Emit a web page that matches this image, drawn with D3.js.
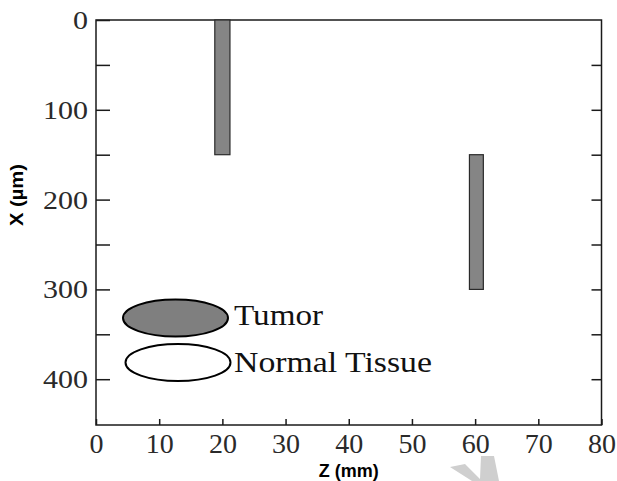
<!DOCTYPE html>
<html>
<head>
<meta charset="utf-8">
<script src="https://cdn.jsdelivr.net/npm/d3@7"></script>
<style>
  html, body { margin: 0; padding: 0; background: #fff; }
  svg { display: block; }
</style>
</head>
<body>
<svg id="chart" width="617" height="481"></svg>
<script>
// ---- data ----
const zTicks = [0, 10, 20, 30, 40, 50, 60, 70, 80];
const xTicks = [0, 50, 100, 150, 200, 250, 300, 350, 400];
const xTickLabels = ["0", "", "100", "", "200", "", "300", "", "400"];
const barZStart = [18.8, 59.1];
const barZEnd = [21.2, 61.3];
const barXStart = [0, 150];
const barXEnd = [150, 300];
const legendLabels = ["Tumor", "Normal Tissue"];
const legendFills = ["#7f7f7f", "#ffffff"];

(function () {
// ---- layout ----
const svg = d3.select("#chart");
const pLeft = 96, pRight = 601.5, pTop = 20, pBottom = 425;
const x = d3.scaleLinear().domain([0, 80]).range([pLeft, pRight]);
const y = d3.scaleLinear().domain([0, 451]).range([pTop, pBottom]);
const serif = '"Liberation Serif"';
const sans = '"Liberation Sans"';
const axisColor = "#1a1a1a";

// frame
svg.append("rect")
  .attr("x", pLeft).attr("y", pTop)
  .attr("width", pRight - pLeft).attr("height", pBottom - pTop)
  .attr("fill", "none").attr("stroke", axisColor).attr("stroke-width", 1.5);

// bars
svg.append("g").selectAll("rect")
  .data(barZStart.map((d, i) => i))
  .join("rect")
  .attr("x", i => x(barZStart[i]))
  .attr("width", i => x(barZEnd[i]) - x(barZStart[i]))
  .attr("y", i => y(barXStart[i]))
  .attr("height", i => y(barXEnd[i]) - y(barXStart[i]))
  .attr("fill", "#858585")
  .attr("stroke", "#2a2a2a")
  .attr("stroke-width", 1.2);

// left axis
const gL = svg.append("g").attr("transform", `translate(${pLeft},0)`)
  .call(d3.axisLeft(y).tickValues(xTicks)
    .tickFormat((d, i) => xTickLabels[i]).tickSize(-14).tickPadding(8));
gL.attr("font-family", serif).attr("font-size", 25);
gL.select(".domain").remove();
gL.selectAll(".tick line").attr("stroke", axisColor).attr("stroke-width", 1.5);
gL.selectAll(".tick text")
  .attr("fill", "#2a2a2a")
  .attr("dy", "0.34em")
  .each(function() {
    const t = d3.select(this).text();
    if (t.length) d3.select(this).attr("textLength", t.length * 15)
      .attr("lengthAdjust", "spacingAndGlyphs");
  });

// right axis ticks
const gR = svg.append("g").attr("transform", `translate(${pRight},0)`)
  .call(d3.axisRight(y).tickValues(xTicks.filter(d => d > 0))
    .tickFormat("").tickSize(-10));
gR.select(".domain").remove();
gR.selectAll(".tick line").attr("stroke", axisColor).attr("stroke-width", 1.5);

// bottom axis
const gB = svg.append("g").attr("transform", `translate(0,${pBottom})`)
  .call(d3.axisBottom(x).tickValues(zTicks).tickSize(-6).tickPadding(8));
gB.attr("font-family", serif).attr("font-size", 28);
gB.select(".domain").remove();
gB.selectAll(".tick line").attr("stroke", axisColor).attr("stroke-width", 1.5);
gB.selectAll(".tick text").attr("fill", "#2a2a2a");

// axis titles
svg.append("text")
  .attr("x", x(40)).attr("y", 477)
  .attr("text-anchor", "middle")
  .attr("font-family", sans).attr("font-weight", "bold").attr("font-size", 18)
  .attr("fill", "#000")
  .text("Z (mm)");

svg.append("text")
  .attr("transform", "translate(23,195) rotate(-90)")
  .attr("text-anchor", "middle")
  .attr("font-family", sans).attr("font-weight", "bold").attr("font-size", 18)
  .attr("textLength", 62).attr("lengthAdjust", "spacingAndGlyphs")
  .attr("fill", "#000")
  .text("X (\u00b5m)");

// legend
const legendCx = [175.5, 178];
const legendCy = [318, 362.5];
const legendTextY = [325, 372];
const legendTextW = [89, 198];
const lg = svg.append("g");
legendLabels.forEach((lab, i) => {
  lg.append("ellipse")
    .attr("cx", legendCx[i]).attr("cy", legendCy[i])
    .attr("rx", 52.5).attr("ry", 18.5)
    .attr("fill", legendFills[i])
    .attr("stroke", "#000").attr("stroke-width", 2);
  lg.append("text")
    .attr("x", 234).attr("y", legendTextY[i])
    .attr("font-family", serif).attr("font-size", 29)
    .attr("fill", "#111")
    .attr("textLength", legendTextW[i]).attr("lengthAdjust", "spacingAndGlyphs")
    .text(lab);
});

// watermark fragment at bottom
svg.append("path")
  .attr("d", "M450,467 L465,464 L480,479 L481,456 L494,456 L499,481 L472,481 Z")
  .attr("fill", "#cfcfcf");
})();
</script>
</body>
</html>
